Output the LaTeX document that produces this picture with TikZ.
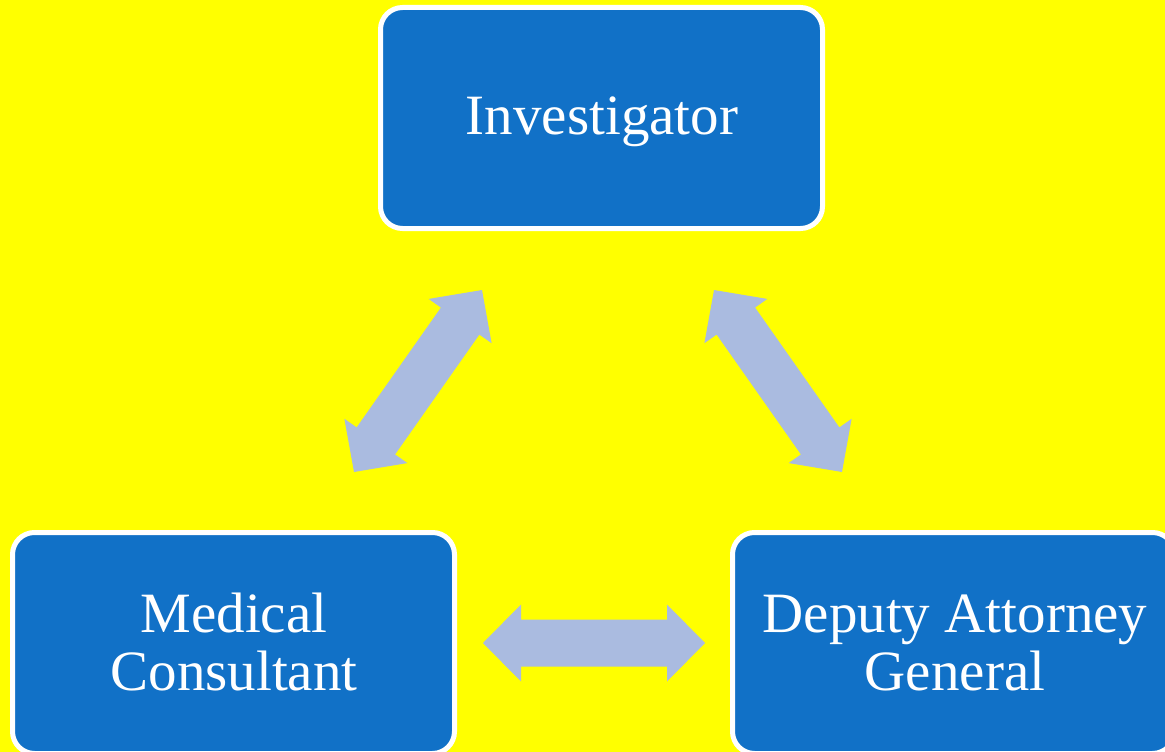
\documentclass[tikz,border=0pt]{standalone}
\usepackage{fontspec}
\setmainfont{Liberation Serif}
\usetikzlibrary{calc}
\definecolor{bgyellow}{HTML}{FFFF00}
\definecolor{boxblue}{HTML}{1171C7}
\definecolor{arrowcol}{HTML}{AABBE0}
\newcommand\dblblockarrow[2]{%
  \fill[arrowcol] (#1)
    -- ($(#1)!38pt!(#2)!38.5pt!90:(#2)$)
    -- ($(#1)!38pt!(#2)!23.5pt!90:(#2)$)
    -- ($(#2)!38pt!(#1)!23.5pt!-90:(#1)$)
    -- ($(#2)!38pt!(#1)!38.5pt!-90:(#1)$)
    -- (#2)
    -- ($(#2)!38pt!(#1)!38.5pt!90:(#1)$)
    -- ($(#2)!38pt!(#1)!23.5pt!90:(#1)$)
    -- ($(#1)!38pt!(#2)!23.5pt!-90:(#2)$)
    -- ($(#1)!38pt!(#2)!38.5pt!-90:(#2)$)
    -- cycle;}
\tikzset{
  rolebox/.style={draw=white, line width=5pt, fill=boxblue, rounded corners=22pt,
    minimum width=442pt, minimum height=221pt, inner sep=0pt},
  rolelabel/.style={text=white, align=center, anchor=base, inner sep=0pt,
    font=\fontsize{57}{58}\selectfont}
}
\begin{document}
\begin{tikzpicture}[x=1pt,y=-1pt]
  \fill[bgyellow] (0,0) rectangle (1165,752);
  \useasboundingbox (0,0) rectangle (1165,752);
  \clip (0,0) rectangle (1165,752);
  % boxes
  \node[rolebox] (inv) at (601.5,118) {};
  \node[rolebox] (med) at (233.5,643) {};
  \node[rolebox] (dep) at (953.5,643) {};
  % labels
  \node[rolelabel] (invl) at (602,134) {Investigator};
  \node[rolelabel] (medl) at (234,690) {Medical\\Consultant};
  \node[rolelabel] (depl) at (955,690) {Deputy Attorney\\General};
  % arrow end points
  \coordinate (l1) at (354,472);
  \coordinate (l2) at (482,290);
  \coordinate (r1) at (714,290);
  \coordinate (r2) at (842,472);
  \coordinate (h1) at (483,643);
  \coordinate (h2) at (705,643);
  \dblblockarrow{l1}{l2}
  \dblblockarrow{r1}{r2}
  \dblblockarrow{h1}{h2}
\end{tikzpicture}
\end{document}
